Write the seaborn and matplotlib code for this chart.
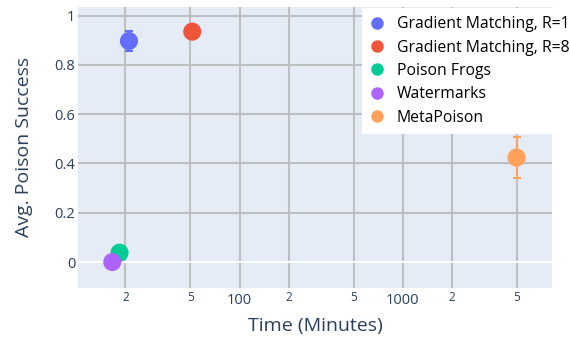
import matplotlib
matplotlib.use("Agg")
import matplotlib.pyplot as plt
import seaborn as sns
import pandas as pd
from matplotlib.lines import Line2D
from matplotlib.ticker import FixedLocator, FixedFormatter

# Poisoning methods: wall-clock time vs. average poison success
methods = ["Gradient Matching, R=1", "Gradient Matching, R=8",
           "Poison Frogs", "Watermarks", "MetaPoison"]
time_minutes = [21.0, 51.3, 18.4, 16.6, 4980.0]
success = [0.897, 0.935, 0.038, 0.0, 0.424]
success_err = [0.041, 0.0, 0.0, 0.0, 0.084]
colors = ["#636EFA", "#EF553B", "#00CC96", "#AB63FA", "#FFA15A"]

major_ticks = [100, 1000]
major_labels = ["100", "1000"]
minor_ticks = [20, 50, 200, 500, 2000, 5000]
minor_labels = ["2", "5", "2", "5", "2", "5"]
y_ticks = [0, 0.2, 0.4, 0.6, 0.8, 1]
y_labels = ["0", "0.2", "0.4", "0.6", "0.8", "1"]

TEXT = "#2a3f5f"
GRID = "#bdbec2"
BG = "#E5ECF6"

sns.set_theme(style="white")
plt.rcParams["font.family"] = ["Open Sans", "DejaVu Sans"]

df = pd.DataFrame({"method": methods, "time": time_minutes,
                   "success": success, "err": success_err})

fig = plt.figure(figsize=(5.7, 3.42), dpi=100)
W, H = 570, 342
left, right, top, bottom = 78, 552, 7, 287.7
ax = fig.add_axes([left / W, 1 - bottom / H, (right - left) / W, (bottom - top) / H])
ax.set_facecolor(BG)
for s in ax.spines.values():
    s.set_visible(False)

# error bars under the markers
for t, y, e, c in zip(time_minutes, success, success_err, colors):
    if e > 0:
        ax.errorbar([t], [y], yerr=[e], fmt="none", ecolor=c, elinewidth=1.5,
                    capsize=3, capthick=1.5, zorder=3)

sns.scatterplot(data=df, x="time", y="success", hue="method",
                palette=dict(zip(methods, colors)), s=170, linewidth=0,
                legend=False, ax=ax, zorder=4)

ax.set_xscale("log")
ax.set_xlim(10.24, 8204)
ax.set_ylim(-0.104, 1.035)

ax.xaxis.set_major_locator(FixedLocator(major_ticks))
ax.xaxis.set_major_formatter(FixedFormatter(major_labels))
ax.xaxis.set_minor_locator(FixedLocator(minor_ticks))
ax.xaxis.set_minor_formatter(FixedFormatter(minor_labels))
ax.set_yticks(y_ticks)
ax.set_yticklabels(y_labels)

ax.tick_params(axis="x", which="major", length=0, pad=3.5, labelsize=10.5, labelcolor=TEXT)
ax.tick_params(axis="x", which="minor", length=0, pad=2.5, labelsize=8.5, labelcolor=TEXT)
ax.tick_params(axis="y", length=0, pad=2, labelsize=10.5, labelcolor=TEXT)

ax.grid(True, which="both", axis="x", color=GRID, linewidth=1.5)
ax.grid(True, which="major", axis="y", color=GRID, linewidth=1.5)
ax.set_axisbelow(True)
ax.axhline(0, color="white", linewidth=1.5, zorder=1.5)

ax.set_xlabel("Time (Minutes)", fontsize=14, color=TEXT)
ax.set_ylabel("Avg. Poison Success", fontsize=14, color=TEXT)
ax.xaxis.set_label_coords(0.5, -0.106)
ax.yaxis.set_label_coords(-0.095, 0.5)

handles = [Line2D([0], [0], marker="o", linestyle="none", markersize=9,
                  markerfacecolor=c, markeredgewidth=0) for c in colors]
leg = fig.legend(handles, methods, loc="upper left",
                 bbox_to_anchor=(362 / W, 1 - 7.5 / H), frameon=True,
                 fancybox=False, framealpha=1, edgecolor="none",
                 facecolor="white", fontsize=11.3, labelcolor="black",
                 handlelength=0.8, handletextpad=0.88, labelspacing=0.47,
                 borderpad=0.55, borderaxespad=0)

fig.savefig("out.png", dpi=100)
